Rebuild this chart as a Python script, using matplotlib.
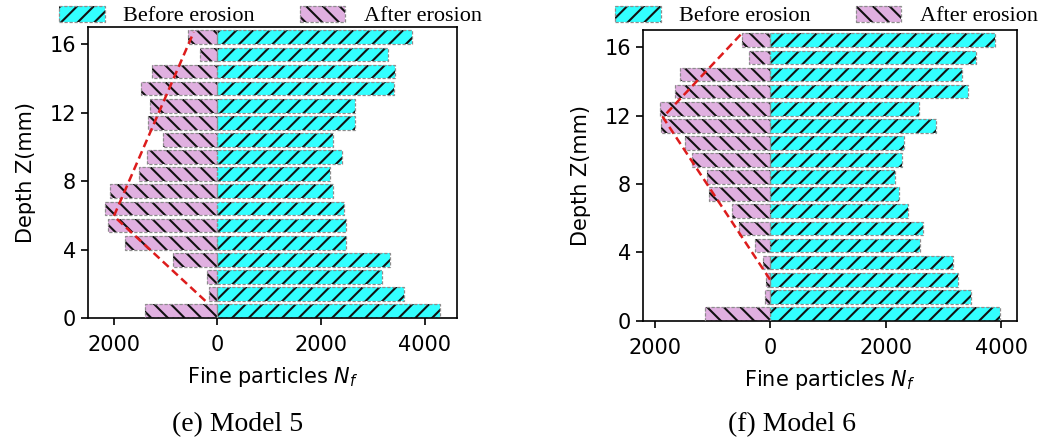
import matplotlib
matplotlib.use("Agg")
import matplotlib.pyplot as plt
from matplotlib.patches import Patch
from matplotlib.legend_handler import HandlerTuple

# ---------------- data ----------------
depth = list(range(17))  # bar bottoms, mm

# Model 5 (values listed from depth 0 upward)
m5_before = [4300, 3600, 3180, 3340, 2480, 2480, 2440, 2240, 2170, 2400, 2240, 2660, 2660, 3400, 3430, 3295, 3756]
m5_after = [1400, 160, 205, 860, 1780, 2110, 2170, 2060, 1510, 1350, 1045, 1330, 1290, 1470, 1250, 330, 570]
m5_trend_x = [230, 1995, 455]
m5_trend_y = [1.0, 5.95, 16.7]

# Model 6
m6_before = [3980, 3470, 3260, 3170, 2590, 2655, 2380, 2230, 2160, 2290, 2310, 2870, 2570, 3430, 3330, 3565, 3885]
m6_after = [1130, 87, 75, 122, 260, 530, 655, 1050, 1085, 1345, 1480, 1890, 1905, 1645, 1565, 370, 490]
m6_trend_x = [0, 1855, 490]
m6_trend_y = [2.4, 11.9, 16.8]

xticks = [-2000, 0, 2000, 4000]
xtick_labels = ["2000", "0", "2000", "4000"]
yticks = [0, 4, 8, 12, 16]
captions = ["(e) Model 5", "(f) Model 6"]
legend_labels = ["Before erosion", "After erosion"]

# ---------------- style ----------------
CYAN = "#33FFFF"
PINK = "#E0B0E0"
EDGE = "#8c8c8c"
RED = "#DD1C1C"
SERIF = ["Liberation Serif", "DejaVu Serif"]
plt.rcParams["font.family"] = ["DejaVu Sans"]
plt.rcParams["hatch.linewidth"] = 1.5

W, H = 1038, 445
fig = plt.figure(figsize=(W / 100, H / 100), dpi=100)


def px_axes(x0, y0, x1, y1):
    return fig.add_axes([x0 / W, 1 - y1 / H, (x1 - x0) / W, (y1 - y0) / H])


axes_px = [(88, 27, 457, 318), (643, 30, 1017, 320.7)]
legend_px = [(59, 16), (615, 16)]
caption_px = [(238, 425), (792, 425)]
models = [
    (m5_before, m5_after, m5_trend_x, m5_trend_y),
    (m6_before, m6_after, m6_trend_x, m6_trend_y),
]

dash = (0, (2.6, 1.4))

for i, (before, after, tx, ty) in enumerate(models):
    ax = px_axes(*axes_px[i])
    neg_after = [-v for v in after]
    # fills with black hatch
    ax.barh(depth, before, height=0.8, align="edge", color=CYAN,
            edgecolor="#111111", linewidth=0, hatch="//", zorder=2)
    ax.barh(depth, neg_after, height=0.8, align="edge", color=PINK,
            edgecolor="#111111", linewidth=0, hatch="\\\\", zorder=2)
    # dashed grey outlines
    ax.barh(depth, before, height=0.8, align="edge", fill=False,
            edgecolor=EDGE, linewidth=0.9, linestyle=dash, zorder=3)
    ax.barh(depth, neg_after, height=0.8, align="edge", fill=False,
            edgecolor=EDGE, linewidth=0.9, linestyle=dash, zorder=3)
    # trend line
    ax.plot([-v for v in tx], ty, color=RED, linestyle=(0, (3.2, 1.8)),
            linewidth=1.8, zorder=4)

    ax.set_ylim(0, 17)
    ax.set_yticks(yticks)
    ax.set_xticks(xticks)
    ax.set_xticklabels(xtick_labels)
    ax.tick_params(labelsize=15, length=5, width=1.2)
    ax.tick_params(axis="x", pad=7.5)
    for s in ax.spines.values():
        s.set_linewidth(1.2)
    ax.set_xlabel(r"Fine particles $N_f$", fontsize=15, labelpad=7)
    ax.set_ylabel("Depth Z(mm)", fontsize=15, labelpad=10)

    # legend
    hb = (Patch(facecolor=CYAN, edgecolor="#111111", linewidth=0, hatch="//"),
          Patch(fill=False, edgecolor=EDGE, linewidth=0.9, linestyle=dash))
    ha = (Patch(facecolor=PINK, edgecolor="#111111", linewidth=0, hatch="\\\\"),
          Patch(fill=False, edgecolor=EDGE, linewidth=0.9, linestyle=dash))
    lx, ly = legend_px[i]
    fig.legend([hb, ha], legend_labels, loc="center left",
               bbox_to_anchor=(lx / W, 1 - ly / H), bbox_transform=fig.transFigure,
               ncol=2, frameon=False, borderpad=0, borderaxespad=0,
               handlelength=2.05, handleheight=0.75, handletextpad=0.85,
               columnspacing=2.0,
               handler_map={tuple: HandlerTuple(ndivide=1, pad=0)},
               prop={"family": SERIF, "size": 16})

    cx, cy = caption_px[i]
    fig.text(cx / W, 1 - cy / H, captions[i], ha="center", va="center",
             fontsize=20, family=SERIF)

fig.savefig("out.png", dpi=100)
